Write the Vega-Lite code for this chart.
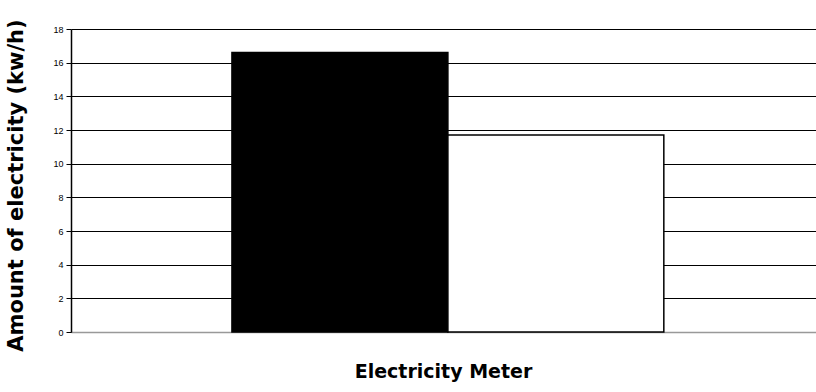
{
  "$schema": "https://vega.github.io/schema/vega-lite/v6.json",
  "autosize": {"type": "none"},
  "width": 745,
  "height": 303,
  "padding": {"left": 71, "top": 29, "right": 0, "bottom": 60},
  "background": "white",
  "config": {"view": {"stroke": null}},
  "data": {
    "values": [
      {"meter": "A", "amount": 16.6},
      {"meter": "B", "amount": 11.7}
    ]
  },
  "mark": {"type": "bar", "stroke": "black", "strokeWidth": 1.5},
  "encoding": {
    "x": {
      "field": "meter",
      "type": "nominal",
      "sort": null,
      "scale": {"paddingInner": 0, "paddingOuter": 0.725, "align": 0.514},
      "axis": {
        "title": "Electricity Meter",
        "labels": false,
        "ticks": false,
        "domainColor": "#999999",
        "domainWidth": 1.5,
        "titleFont": "Comic Sans MS, DejaVu Sans",
        "titleFontSize": 19,
        "titleFontWeight": "bold",
        "titleColor": "black",
        "titlePadding": 30,
        "titleX": 372
      }
    },
    "y": {
      "field": "amount",
      "type": "quantitative",
      "scale": {"domain": [0, 18], "nice": false},
      "axis": {
        "title": "Amount of electricity (kw/h)",
        "values": [0, 2, 4, 6, 8, 10, 12, 14, 16, 18],
        "grid": true,
        "gridColor": "black",
        "gridWidth": 1,
        "gridOpacity": 1,
        "domainColor": "black",
        "domainWidth": 1.5,
        "tickColor": "black",
        "tickSize": 5,
        "labelFont": "Liberation Sans",
        "labelFontSize": 9,
        "labelColor": "black",
        "labelPadding": 3,
        "titleFont": "Comic Sans MS, DejaVu Sans",
        "titleFontSize": 21,
        "titleFontWeight": "bold",
        "titleColor": "black",
        "titlePadding": 26,
        "titleY": 156
      }
    },
    "fill": {
      "field": "meter",
      "type": "nominal",
      "scale": {"domain": ["A", "B"], "range": ["black", "white"]},
      "legend": null
    }
  }
}
